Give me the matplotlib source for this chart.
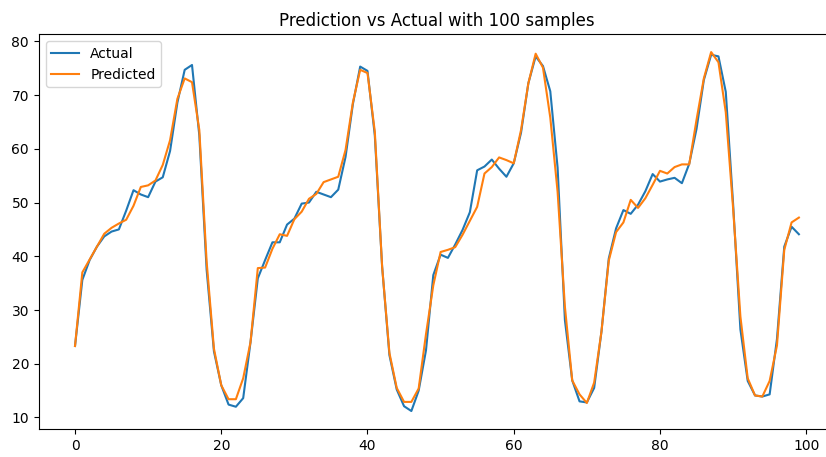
#!/usr/bin/env python3

import numpy as np
import matplotlib
matplotlib.use("Agg")
import matplotlib.pyplot as plt

# values, one per sample
actual = [
    23.3, 35.6, 39.3, 41.8, 43.7, 44.6, 45.0, 48.5, 52.3, 51.5,
    51.0, 53.9, 54.7, 59.6, 68.6, 74.7, 75.6, 62.5, 37.5, 22.3,
    16.0, 12.4, 12.0, 13.6, 24.0, 35.9, 39.3, 42.6, 42.6, 45.9,
    47.0, 49.8, 50.0, 52.0, 51.5, 51.0, 52.4, 58.5, 68.3, 75.3,
    74.5, 62.5, 38.1, 21.6, 15.2, 12.1, 11.2, 15.0, 22.5, 36.5,
    40.3, 39.7, 42.2, 44.9, 48.2, 56.0, 56.7, 58.0, 56.3, 54.8,
    57.3, 63.0, 72.2, 77.2, 75.4, 70.7, 56.5, 28.1, 16.9, 13.0,
    12.8, 15.5, 26.0, 39.6, 45.2, 48.6, 47.9, 49.6, 52.1, 55.3,
    53.9, 54.3, 54.6, 53.6, 57.2, 63.7, 72.8, 77.5, 77.2, 70.6,
    49.8, 26.4, 16.8, 14.1, 13.9, 14.3, 24.6, 41.8, 45.5, 44.1,
]
predicted = [
    23.3, 37.0, 39.4, 41.8, 44.2, 45.3, 46.1, 46.8, 49.4, 52.9,
    53.2, 54.1, 57.0, 61.6, 69.3, 73.1, 72.4, 63.5, 39.0, 22.8,
    16.0, 13.4, 13.4, 17.3, 24.0, 37.8, 37.9, 41.4, 44.1, 43.8,
    46.9, 48.3, 50.7, 51.6, 53.8, 54.3, 54.8, 59.8, 68.6, 74.7,
    74.1, 63.2, 38.1, 22.0, 15.5, 12.9, 12.9, 15.4, 25.5, 34.6,
    40.8, 41.2, 41.7, 44.0, 46.6, 49.2, 55.4, 56.6, 58.4, 57.9,
    57.3, 63.5, 72.2, 77.7, 75.1, 65.8, 52.0, 30.6, 16.9, 14.3,
    12.7, 16.5, 26.0, 39.2, 44.5, 46.3, 50.5, 49.0, 50.8, 53.3,
    55.9, 55.4, 56.6, 57.1, 57.1, 65.4, 73.1, 78.0, 76.1, 66.8,
    49.0, 28.8, 17.3, 14.1, 13.9, 16.8, 23.4, 41.2, 46.3, 47.2,
]

n = len(actual)
x = np.arange(n)

fig = plt.figure(figsize=(8.26, 4.57), dpi=100)
# axes run a bit past the right edge, as in the reference crop
ax = fig.add_axes([0.047, 0.0613, 0.964, 0.864])
ax.plot(x, actual, label="Actual")
ax.plot(x, predicted, label="Predicted")
ax.set_title(f"Prediction vs Actual with {n} samples")
ax.legend(loc="upper left")

fig.savefig("out.png", dpi=100)
